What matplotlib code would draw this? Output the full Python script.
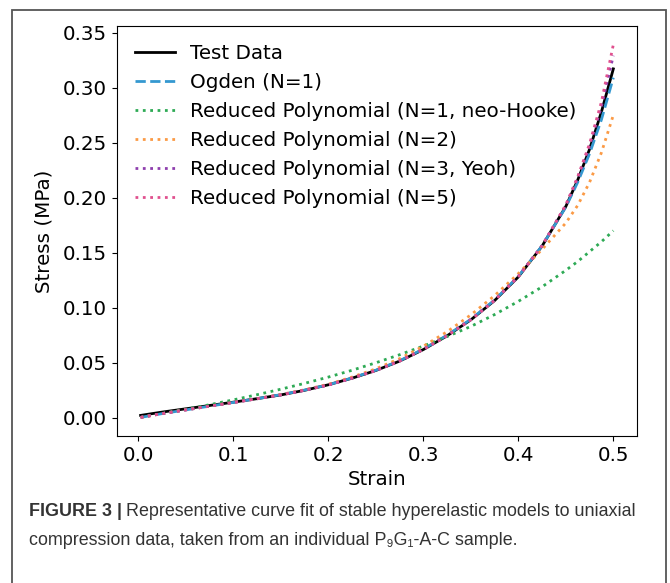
import matplotlib.pyplot as plt
from matplotlib.patches import Rectangle

strain = [0.0025, 0.025, 0.05, 0.075, 0.1, 0.125, 0.15, 0.175, 0.2, 0.225, 0.25, 0.275,
          0.3, 0.325, 0.35, 0.375, 0.4, 0.425, 0.45, 0.4625, 0.475, 0.4875, 0.5]

# Spannungen in MPa
test_data = [0.0022, 0.0052, 0.0082, 0.0112, 0.0142, 0.0174, 0.0208, 0.0250, 0.0300, 0.0360,
             0.0430, 0.0515, 0.0620, 0.0745, 0.0890, 0.1065, 0.1280, 0.1560, 0.1920, 0.2160,
             0.2440, 0.2780, 0.3170]
ogden_1 = [0.0004, 0.0038, 0.0072, 0.0106, 0.0140, 0.0174, 0.0210, 0.0252, 0.0300, 0.0362,
           0.0432, 0.0518, 0.0625, 0.0750, 0.0895, 0.1070, 0.1285, 0.1562, 0.1915, 0.2140,
           0.2400, 0.2710, 0.3090]
neo_hooke = [0.0004, 0.0040, 0.0078, 0.0119, 0.0163, 0.0210, 0.0260, 0.0313, 0.0370, 0.0432,
             0.0500, 0.0573, 0.0652, 0.0738, 0.0830, 0.0938, 0.1058, 0.1190, 0.1340, 0.1420,
             0.1510, 0.1600, 0.1700]
red_poly_2 = [0.0004, 0.0038, 0.0073, 0.0106, 0.0140, 0.0175, 0.0212, 0.0255, 0.0305, 0.0370,
              0.0445, 0.0537, 0.0650, 0.0782, 0.0935, 0.1110, 0.1310, 0.1530, 0.1770, 0.1930,
              0.2140, 0.2410, 0.2750]
yeoh_3 = [0.0004, 0.0038, 0.0072, 0.0106, 0.0139, 0.0173, 0.0208, 0.0250, 0.0298, 0.0360,
          0.0430, 0.0516, 0.0622, 0.0747, 0.0893, 0.1068, 0.1285, 0.1565, 0.1930, 0.2180,
          0.2470, 0.2830, 0.3290]
red_poly_5 = [0.0004, 0.0038, 0.0072, 0.0106, 0.0139, 0.0173, 0.0208, 0.0250, 0.0298, 0.0360,
              0.0429, 0.0515, 0.0620, 0.0745, 0.0890, 0.1066, 0.1282, 0.1562, 0.1935, 0.2190,
              0.2490, 0.2870, 0.3390]

labels = ["Test Data", "Ogden (N=1)", "Reduced Polynomial (N=1, neo-Hooke)",
          "Reduced Polynomial (N=2)", "Reduced Polynomial (N=3, Yeoh)",
          "Reduced Polynomial (N=5)"]

FS = 14.3

fig = plt.figure(figsize=(6.70, 5.83), dpi=100)
ax = fig.add_axes([0.1746, 0.2521, 0.7761, 0.7033])

ax.plot(strain, test_data, "-", color="black", linewidth=2, label=labels[0])
ax.plot(strain, ogden_1, "--", color="#3498d0", linewidth=2, label=labels[1])
ax.plot(strain, neo_hooke, ":", color="#2eaa55", linewidth=2, label=labels[2])
ax.plot(strain, red_poly_2, ":", color="#fb9a45", linewidth=2, label=labels[3])
ax.plot(strain, yeoh_3, ":", color="#8e3fae", linewidth=2, label=labels[4])
ax.plot(strain, red_poly_5, ":", color="#e0508e", linewidth=2, label=labels[5])

ax.set_xticks([0.0, 0.1, 0.2, 0.3, 0.4, 0.5])
ax.set_yticks([0.00, 0.05, 0.10, 0.15, 0.20, 0.25, 0.30, 0.35])
ax.tick_params(labelsize=FS)
ax.set_xlabel("Strain", fontsize=FS)
ax.set_ylabel("Stress (MPa)", fontsize=FS, labelpad=7)
ax.legend(loc="upper left", frameon=False, fontsize=FS)

# Rahmen um die ganze Abbildung
fig.patches.append(Rectangle((11.5 / 670, -0.05), (666 - 11.5) / 670, 1.05 - 9.5 / 583,
                             transform=fig.transFigure, fill=False,
                             edgecolor="#555555", linewidth=1.3))

# Bildunterschrift
cap_font = ["Liberation Sans", "DejaVu Sans"]
CS = 12.9
t1 = fig.text(29 / 670, 1 - 516 / 583, "FIGURE 3 |", fontsize=CS, fontweight="bold",
              family=cap_font, color="#333333")
fig.canvas.draw()
bb = t1.get_window_extent()
fig.text((bb.x1 + 4) / 670, 1 - 516 / 583,
         "Representative curve fit of stable hyperelastic models to uniaxial",
         fontsize=CS, family=cap_font, color="#333333")
fig.text(29 / 670, 1 - 545 / 583,
         "compression data, taken from an individual P\u2089G\u2081-A-C sample.",
         fontsize=CS, family=cap_font, color="#333333")

fig.savefig("out.png", dpi=100)
